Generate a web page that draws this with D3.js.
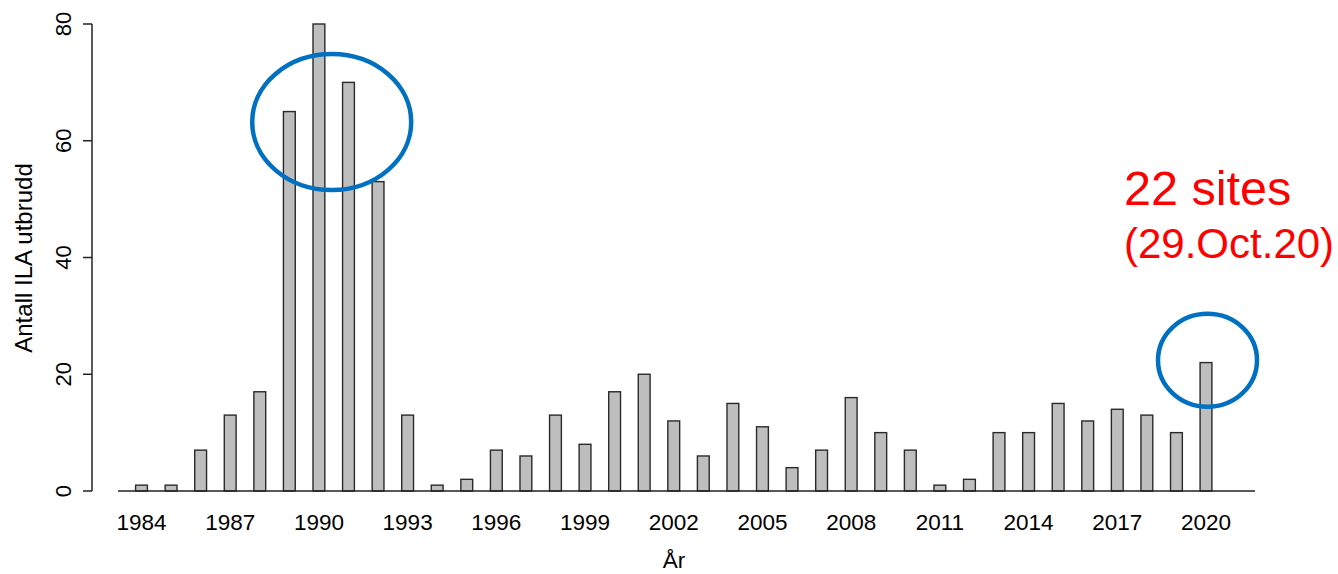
<!DOCTYPE html>
<html><head><meta charset="utf-8">
<script src="https://cdn.jsdelivr.net/npm/d3@7/dist/d3.min.js"></script>
<style>body{margin:0;background:#fff}svg{display:block}text{font-family:"Liberation Sans",Arial,sans-serif}</style>
</head><body><svg id="c" width="1338" height="574"></svg>
<script>
const years = d3.range(1984, 2021);
const values = [1,1,7,13,17,65,80,70,53,13,1,2,7,6,13,8,17,20,12,6,15,11,4,7,16,10,7,1,2,10,10,15,12,14,13,10,22];
const yTicks = [0,20,40,60,80];
const xTickYears = [1984,1987,1990,1993,1996,1999,2002,2005,2008,2011,2014,2017,2020];
const annotation = ["22 sites","(29.Oct.20)"];

const svg = d3.select("#c");
const step = (1206-141.5)/36;
const x = d3.scaleBand().domain(years).range([141.5-step/2, 1206+step/2]).paddingInner(0.6).paddingOuter(0.3);
const y = d3.scaleLinear().domain([0,80]).range([491,24]);

// bars
svg.append("g").selectAll("rect").data(years).join("rect")
  .attr("x", d=>x(d)).attr("width", x.bandwidth())
  .attr("y", (d,i)=>y(values[i])).attr("height", (d,i)=>y(0)-y(values[i]))
  .attr("fill","#bebebe").attr("stroke","#2a2a2a").attr("stroke-width",1.4);

// baseline
svg.append("line").attr("x1",118).attr("x2",1255).attr("y1",y(0)).attr("y2",y(0))
  .attr("stroke","#222").attr("stroke-width",1.5);

// y axis
const ya = svg.append("g").attr("transform","translate(92,0)");
ya.append("line").attr("x1",0).attr("x2",0).attr("y1",y(0)).attr("y2",y(80)).attr("stroke","#222").attr("stroke-width",1.5);
ya.selectAll("line.t").data(yTicks).join("line").attr("class","t")
  .attr("x1",-9).attr("x2",0).attr("y1",d=>y(d)).attr("y2",d=>y(d)).attr("stroke","#222").attr("stroke-width",1.5);
ya.selectAll("text").data(yTicks).join("text")
  .attr("transform",d=>`translate(-21,${y(d)}) rotate(-90)`)
  .attr("text-anchor","middle").attr("font-size",22).attr("fill","#000").text(d=>d);

// x tick labels
svg.append("g").selectAll("text").data(xTickYears).join("text")
  .attr("x",d=>x(d)+x.bandwidth()/2).attr("y",530)
  .attr("text-anchor","middle").attr("font-size",22.5).attr("fill","#000").text(d=>d);

// axis titles
svg.append("text").attr("x",674).attr("y",568).attr("text-anchor","middle").attr("font-size",22.5).text("År");
svg.append("text").attr("transform","translate(32,258) rotate(-90)").attr("text-anchor","middle").attr("font-size",24).text("Antall ILA utbrudd");

// ellipses
svg.append("ellipse").attr("cx",(x(1990)+x(1991))/2+x.bandwidth()/2 - 2).attr("cy",y(63.2)).attr("rx",79.5).attr("ry",68)
  .attr("fill","none").attr("stroke","#0070c0").attr("stroke-width",4.5);
svg.append("ellipse").attr("cx",x(2020)+x.bandwidth()/2+1.5).attr("cy",y(22.4)).attr("rx",49.5).attr("ry",46.5)
  .attr("fill","none").attr("stroke","#0070c0").attr("stroke-width",4.5);

// annotation
svg.append("text").attr("x",1124).attr("y",205).attr("font-size",48.5).attr("fill","#ff0000").text(annotation[0]);
svg.append("text").attr("x",1124).attr("y",258).attr("font-size",42).attr("fill","#ff0000").text(annotation[1]);
</script></body></html>
